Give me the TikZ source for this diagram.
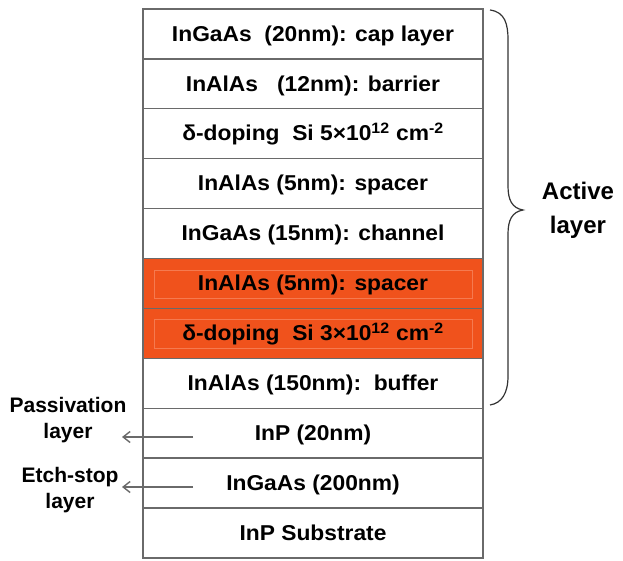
\documentclass[tikz,border=0pt]{standalone}
\usepackage{fontspec}
\setmainfont{Liberation Sans}
\usetikzlibrary{arrows.meta}
\definecolor{edge}{HTML}{6A6A6A}
\definecolor{hot}{HTML}{F0521C}
\definecolor{hotline}{HTML}{F57A50}
\newcommand{\sx}[1]{\textsuperscript{#1}}
\newcommand{\wide}[1]{\scalebox{1.06}[1]{#1}}
\begin{document}
\begin{tikzpicture}[x=1pt,y=1pt,
  layerbox/.style={draw=edge, line width=1.3pt, minimum width=340pt, minimum height=49.9pt,
    inner sep=0pt, text height=19pt, text depth=4.6pt,
    font=\fontsize{21.5}{25}\selectfont\bfseries, text=black},
  hotbox/.style={layerbox, fill=hot},
  sidelabel/.style={align=center, font=\fontsize{21}{25.5}\selectfont\bfseries, inner sep=0pt},
  pointer/.style={draw=edge, line width=1.4pt, -{Straight Barb[length=7pt,width=11pt]}}]
\useasboundingbox (0,0) rectangle (623,-560);
\fill[white] (0,0) rectangle (623,-560);
\node[layerbox] (L1) at (313,-33.95) {\wide{InGaAs\ \ (20nm): cap layer}};
\node[layerbox] (L2) at (313,-83.85) {\wide{InAlAs\ \ \ (12nm): barrier}};
\node[layerbox] (L3) at (313,-133.75) {\wide{δ-doping\ \ Si 5×10\sx{12} cm\sx{-2}}};
\node[layerbox] (L4) at (313,-183.65) {\wide{InAlAs (5nm): spacer}};
\node[layerbox] (L5) at (313,-233.55) {\wide{InGaAs (15nm): channel}};
\node[hotbox] (L6) at (313,-283.45) {\wide{InAlAs (5nm): spacer}};
\node[hotbox] (L7) at (313,-333.35) {\wide{δ-doping\ \ Si 3×10\sx{12} cm\sx{-2}}};
\node[layerbox] (L8) at (313,-383.25) {\wide{InAlAs (150nm):\ \ buffer}};
\node[layerbox] (L9) at (313,-433.15) {\wide{InP (20nm)}};
\node[layerbox] (L10) at (313,-483.05) {\wide{InGaAs (200nm)}};
\node[layerbox] (L11) at (313,-532.95) {\wide{InP Substrate}};
% faint inner frames on the orange layers
\draw[hotline, line width=0.6pt] ([xshift=12pt,yshift=-12pt]L6.north west) rectangle ([xshift=-11pt,yshift=11pt]L6.south east);
\draw[hotline, line width=0.6pt] ([xshift=12pt,yshift=-12pt]L7.north west) rectangle ([xshift=-11pt,yshift=11pt]L7.south east);
% brace
\draw[black!80, line width=1.2pt] (490,-10) .. controls (505,-12) and (508,-24) .. (508,-40)
  -- (508,-186) .. controls (508,-200) and (512,-208) .. (523,-210)
  .. controls (512,-212) and (508,-220) .. (508,-234)
  -- (508,-376) .. controls (508,-393) and (502,-403) .. (490,-405);
\node[sidelabel, font=\fontsize{24}{34}\selectfont\bfseries] (act) at (578,-210) {Active\\layer};
% side labels
\node[sidelabel] (pas) at (68,-420) {Passivation\\layer};
\node[sidelabel] (etch) at (70,-490) {Etch-stop\\layer};
\coordinate (p1) at (193,-437);
\coordinate (p2) at (193,-487);
\draw[pointer] (p1) -- (122,-437);
\draw[pointer] (p2) -- (122,-487);
\end{tikzpicture}
\end{document}
